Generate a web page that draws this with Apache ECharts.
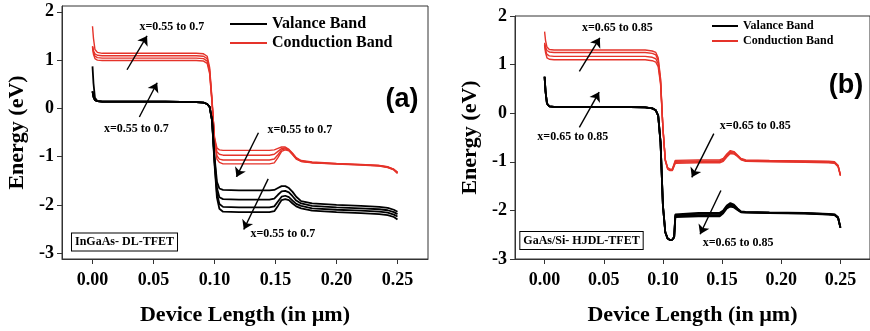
<!DOCTYPE html>
<html>
<head>
<meta charset="utf-8">
<script src="https://cdn.jsdelivr.net/npm/echarts@6/dist/echarts.min.js"></script>
<style>
  html, body { margin: 0; padding: 0; background: #fff; }
  #chart { width: 870px; height: 331px; }
</style>
</head>
<body>
<div id="chart"></div>
<script>
// sample positions along the device (µm)
const xA = [0, 0.0008, 0.002, 0.004, 0.008, 0.03, 0.06, 0.085, 0.091, 0.094, 0.096, 0.098, 0.1, 0.102, 0.104, 0.107, 0.12, 0.145, 0.149, 0.152, 0.155, 0.158, 0.161, 0.164, 0.167, 0.171, 0.18, 0.2, 0.22, 0.235, 0.242, 0.247, 0.25];
const xB = [0, 0.0008, 0.002, 0.004, 0.008, 0.03, 0.06, 0.085, 0.091, 0.094, 0.096, 0.098, 0.1, 0.102, 0.104, 0.106, 0.108, 0.1095, 0.1105, 0.112, 0.13, 0.148, 0.151, 0.154, 0.157, 0.16, 0.163, 0.166, 0.17, 0.19, 0.22, 0.24, 0.245, 0.248, 0.25];

// (a) InGaAs DL-TFET, x = 0.55 .. 0.7
const cbA1 = [1.27, 1.12, 1.03, 1.00, 0.99, 0.99, 0.99, 0.99, 0.98, 0.93, 0.72, 0.10, -0.60, -0.82, -0.86, -0.87, -0.87, -0.87, -0.86, -0.83, -0.80, -0.80, -0.85, -0.93, -1.02, -1.08, -1.11, -1.14, -1.16, -1.18, -1.21, -1.26, -1.32];
const cbA2 = [1.28, 1.16, 1.08, 1.05, 1.04, 1.04, 1.04, 1.04, 1.03, 0.98, 0.76, 0.12, -0.62, -0.90, -0.95, -0.97, -0.97, -0.97, -0.95, -0.89, -0.83, -0.82, -0.86, -0.94, -1.03, -1.09, -1.12, -1.145, -1.165, -1.185, -1.215, -1.265, -1.33];
const cbA3 = [1.29, 1.19, 1.13, 1.10, 1.09, 1.09, 1.09, 1.09, 1.08, 1.03, 0.80, 0.15, -0.64, -0.98, -1.05, -1.07, -1.07, -1.07, -1.05, -0.96, -0.86, -0.84, -0.87, -0.95, -1.04, -1.095, -1.125, -1.15, -1.17, -1.19, -1.22, -1.27, -1.34];
const cbA4 = [1.70, 1.45, 1.22, 1.16, 1.14, 1.14, 1.14, 1.14, 1.13, 1.08, 0.85, 0.18, -0.66, -1.05, -1.12, -1.15, -1.15, -1.15, -1.13, -1.02, -0.89, -0.86, -0.88, -0.96, -1.05, -1.10, -1.13, -1.155, -1.175, -1.195, -1.225, -1.275, -1.35];
const vbA1 = [0.35, 0.24, 0.17, 0.15, 0.14, 0.14, 0.14, 0.13, 0.12, 0.09, 0.03, -0.25, -1.00, -1.52, -1.66, -1.69, -1.70, -1.70, -1.69, -1.65, -1.61, -1.61, -1.65, -1.73, -1.83, -1.92, -1.97, -2.00, -2.02, -2.04, -2.06, -2.10, -2.14];
const vbA2 = [0.35, 0.24, 0.17, 0.15, 0.14, 0.14, 0.14, 0.13, 0.12, 0.09, 0.03, -0.25, -1.05, -1.65, -1.84, -1.88, -1.89, -1.89, -1.87, -1.79, -1.72, -1.71, -1.74, -1.82, -1.91, -1.97, -2.02, -2.05, -2.07, -2.09, -2.11, -2.15, -2.19];
const vbA3 = [0.35, 0.24, 0.17, 0.15, 0.14, 0.14, 0.14, 0.13, 0.12, 0.09, 0.03, -0.25, -1.10, -1.76, -1.98, -2.04, -2.05, -2.05, -2.03, -1.93, -1.83, -1.81, -1.84, -1.91, -1.98, -2.02, -2.07, -2.10, -2.12, -2.14, -2.16, -2.20, -2.24];
const vbA4 = [0.87, 0.52, 0.22, 0.15, 0.14, 0.14, 0.14, 0.13, 0.12, 0.09, 0.03, -0.25, -1.15, -1.85, -2.08, -2.14, -2.15, -2.15, -2.13, -2.02, -1.90, -1.88, -1.90, -1.97, -2.03, -2.07, -2.12, -2.15, -2.17, -2.19, -2.21, -2.25, -2.30];

// (b) GaAs/Si HJDL-TFET, x = 0.65 .. 0.85
const cbB1 = [1.40, 1.25, 1.14, 1.11, 1.10, 1.10, 1.10, 1.10, 1.08, 1.05, 0.96, 0.60, -0.30, -0.95, -1.12, -1.15, -1.15, -1.12, -0.97, -0.96, -0.96, -0.96, -0.93, -0.84, -0.77, -0.79, -0.86, -0.93, -0.96, -0.97, -0.98, -0.99, -1.00, -1.07, -1.27];
const cbB2 = [1.42, 1.30, 1.21, 1.18, 1.17, 1.17, 1.17, 1.17, 1.15, 1.12, 1.02, 0.64, -0.30, -0.96, -1.13, -1.16, -1.16, -1.13, -0.99, -0.98, -0.98, -0.98, -0.95, -0.86, -0.79, -0.80, -0.87, -0.94, -0.97, -0.98, -0.99, -1.00, -1.01, -1.08, -1.27];
const cbB3 = [1.45, 1.36, 1.29, 1.26, 1.25, 1.25, 1.25, 1.25, 1.23, 1.20, 1.09, 0.68, -0.31, -0.97, -1.14, -1.17, -1.17, -1.14, -1.01, -1.00, -1.00, -1.00, -0.97, -0.88, -0.81, -0.82, -0.88, -0.95, -0.98, -0.99, -1.00, -1.01, -1.02, -1.09, -1.28];
const cbB4 = [1.68, 1.50, 1.36, 1.31, 1.30, 1.30, 1.30, 1.30, 1.28, 1.25, 1.14, 0.72, -0.31, -0.98, -1.15, -1.18, -1.18, -1.15, -1.03, -1.02, -1.02, -1.02, -0.99, -0.90, -0.83, -0.84, -0.89, -0.96, -0.99, -1.00, -1.01, -1.02, -1.03, -1.10, -1.29];
const vbB1 = [0.75, 0.45, 0.20, 0.14, 0.13, 0.13, 0.13, 0.12, 0.10, 0.06, -0.05, -0.60, -1.90, -2.45, -2.58, -2.61, -2.60, -2.55, -2.08, -2.05, -2.05, -2.05, -2.00, -1.90, -1.85, -1.88, -1.96, -2.02, -2.03, -2.04, -2.05, -2.07, -2.08, -2.14, -2.35];
const vbB2 = [0.75, 0.45, 0.20, 0.14, 0.13, 0.13, 0.13, 0.12, 0.10, 0.06, -0.05, -0.60, -1.90, -2.45, -2.58, -2.61, -2.60, -2.55, -2.10, -2.07, -2.07, -2.07, -2.02, -1.92, -1.87, -1.90, -1.97, -2.03, -2.035, -2.045, -2.055, -2.075, -2.085, -2.145, -2.35];
const vbB3 = [0.75, 0.45, 0.20, 0.14, 0.13, 0.13, 0.13, 0.12, 0.10, 0.06, -0.05, -0.60, -1.90, -2.45, -2.58, -2.61, -2.60, -2.55, -2.12, -2.10, -2.10, -2.10, -2.04, -1.94, -1.89, -1.92, -1.98, -2.035, -2.04, -2.05, -2.06, -2.08, -2.09, -2.15, -2.36];
const vbB4 = [0.75, 0.45, 0.20, 0.14, 0.13, 0.13, 0.13, 0.12, 0.10, 0.06, -0.05, -0.60, -1.90, -2.45, -2.58, -2.61, -2.60, -2.55, -2.14, -2.12, -2.12, -2.12, -2.06, -1.96, -1.92, -1.94, -1.99, -2.04, -2.045, -2.055, -2.065, -2.085, -2.095, -2.155, -2.36];

const xTicks = [0, 0.05, 0.1, 0.15, 0.2, 0.25];
const yTicks = [-3, -2, -1, 0, 1, 2];

// arrows: [x0, y0, x1, y1] in data units, head at the second point
const arrowsA = [[0.0283, 0.80, 0.0447, 1.50], [0.0384, -0.18, 0.053, 0.53], [0.136, -0.505, 0.118, -1.42], [0.144, -1.46, 0.124, -2.51]];
const notesA = [[0.065, 1.69], [0.036, -0.42], [0.170, -0.45], [0.156, -2.61]];
const arrowsB = [[0.0294, 0.86, 0.0467, 1.55], [0.0294, -0.29, 0.0461, 0.434], [0.143, -0.42, 0.1244, -1.32], [0.149, -1.59, 0.1314, -2.49]];
const notesB = [[0.0615, 1.75], [0.0238, -0.49], [0.178, -0.27], [0.1636, -2.67]];

const SERIF = '"Liberation Serif", "Times New Roman", serif';
const RED = '#e5332a';

let myChart = echarts.init(document.getElementById('chart'));

function band(name, xs, ys, idx, color, width) {
    return {
        name: name, type: 'line', xAxisIndex: idx, yAxisIndex: idx,
        data: xs.map((x, i) => [x, ys[i]]),
        showSymbol: false, symbol: 'none', silent: true,
        lineStyle: { color: color, width: width },
        itemStyle: { color: color }
    };
}

function notes(idx, arrows, pts, text) {
    return {
        type: 'line', xAxisIndex: idx, yAxisIndex: idx, data: [], silent: true,
        markLine: {
            silent: true, symbol: ['none', 'arrow'], symbolSize: 9,
            label: { show: false },
            lineStyle: { color: '#000', width: 1.4, type: 'solid' },
            data: arrows.map(a => [{ coord: [a[0], a[1]] }, { coord: [a[2], a[3]] }])
        },
        markPoint: {
            symbol: 'circle', symbolSize: 0, silent: true,
            label: { show: true, position: 'inside', formatter: p => p.name, fontFamily: SERIF, fontWeight: 'bold', fontSize: 12, color: '#000' },
            data: pts.map(p => ({ name: text, coord: [p[0], p[1]] }))
        }
    };
}

function xAxisOf(idx) {
    return {
        type: 'value', gridIndex: idx, min: -0.025, max: 0.275,
        name: 'Device Length (in µm)', nameLocation: 'middle', nameGap: 45,
        nameTextStyle: { fontFamily: SERIF, fontWeight: 'bold', fontSize: 22, color: '#000' },
        axisLine: { onZero: false, lineStyle: { color: '#333', width: 1 } },
        axisTick: { inside: false, length: 5, customValues: xTicks, lineStyle: { color: '#333' } },
        axisLabel: { customValues: xTicks, formatter: v => v.toFixed(2), fontFamily: SERIF, fontWeight: 'bold', fontSize: 18, color: '#000', margin: 12 },
        splitLine: { show: false }
    };
}

function yAxisOf(idx, min, max) {
    return {
        type: 'value', gridIndex: idx, min: min, max: max,
        name: 'Energy (eV)', nameLocation: 'middle', nameGap: 34,
        nameTextStyle: { fontFamily: SERIF, fontWeight: 'bold', fontSize: 22, color: '#000' },
        axisLine: { show: true, onZero: false, lineStyle: { color: '#333', width: 1 } },
        axisTick: { show: true, inside: false, length: 5, customValues: yTicks, lineStyle: { color: '#333' } },
        axisLabel: { customValues: yTicks, fontFamily: SERIF, fontWeight: 'bold', fontSize: 18, color: '#000', margin: 8 },
        splitLine: { show: false }
    };
}

const option = {
    animation: false,
    grid: [
        { left: 62, top: 6, width: 366, height: 260, show: true, borderColor: '#333', borderWidth: 1 },
        { left: 515, top: 16, width: 358, height: 250, show: true, borderColor: '#333', borderWidth: 1 }
    ],
    xAxis: [xAxisOf(0), xAxisOf(1)],
    yAxis: [yAxisOf(0, -3.12, 2.12), yAxisOf(1, -3, 2)],
    legend: [
        {
            data: ['Valance Band', 'Conduction Band'], orient: 'vertical', left: 230, top: 16, padding: 0,
            icon: 'rect', itemWidth: 37, itemHeight: 2, itemGap: 3,
            textStyle: { fontFamily: SERIF, fontWeight: 'bold', fontSize: 16, color: '#000' }
        },
        {
            data: ['Valance Band', 'Conduction Band'], orient: 'vertical', left: 712, top: 20, padding: 0,
            icon: 'rect', itemWidth: 26, itemHeight: 2, itemGap: 3,
            textStyle: { fontFamily: SERIF, fontWeight: 'bold', fontSize: 12, color: '#000' }
        }
    ],
    graphic: [
        { type: 'text', x: 402, y: 100, style: { text: '(a)', font: 'bold 27px "Liberation Sans", Arial, sans-serif', fill: '#000', textAlign: 'center', textVerticalAlign: 'middle', align: 'center', verticalAlign: 'middle' } },
        { type: 'text', x: 846, y: 86, style: { text: '(b)', font: 'bold 27px "Liberation Sans", Arial, sans-serif', fill: '#000', textAlign: 'center', textVerticalAlign: 'middle', align: 'center', verticalAlign: 'middle' } },
        { type: 'text', x: 124.5, y: 242, style: { text: 'InGaAs- DL-TFET', font: 'bold 12px ' + SERIF, fill: '#000', textAlign: 'center', textVerticalAlign: 'middle', align: 'center', verticalAlign: 'middle', backgroundColor: '#fff', borderColor: '#000', borderWidth: 1, padding: [3, 3, 2, 3] } },
        { type: 'text', x: 581.5, y: 240.5, style: { text: 'GaAs/Si- HJDL-TFET', font: 'bold 12px ' + SERIF, fill: '#000', textAlign: 'center', textVerticalAlign: 'middle', align: 'center', verticalAlign: 'middle', backgroundColor: '#fff', borderColor: '#000', borderWidth: 1, padding: [3, 3, 2, 3] } }
    ],
    series: [
        band('Conduction Band', xA, cbA1, 0, RED, 1.4),
        band('Conduction Band', xA, cbA2, 0, RED, 1.4),
        band('Conduction Band', xA, cbA3, 0, RED, 1.4),
        band('Conduction Band', xA, cbA4, 0, RED, 1.4),
        band('Valance Band', xA, vbA1, 0, '#000', 1.8),
        band('Valance Band', xA, vbA2, 0, '#000', 1.8),
        band('Valance Band', xA, vbA3, 0, '#000', 1.8),
        band('Valance Band', xA, vbA4, 0, '#000', 1.8),
        band('Conduction Band', xB, cbB1, 1, RED, 1.4),
        band('Conduction Band', xB, cbB2, 1, RED, 1.4),
        band('Conduction Band', xB, cbB3, 1, RED, 1.4),
        band('Conduction Band', xB, cbB4, 1, RED, 1.4),
        band('Valance Band', xB, vbB1, 1, '#000', 1.8),
        band('Valance Band', xB, vbB2, 1, '#000', 1.8),
        band('Valance Band', xB, vbB3, 1, '#000', 1.8),
        band('Valance Band', xB, vbB4, 1, '#000', 1.8),
        notes(0, arrowsA, notesA, 'x=0.55 to 0.7'),
        notes(1, arrowsB, notesB, 'x=0.65 to 0.85')
    ]
};

myChart.setOption(option);
</script>
</body>
</html>
